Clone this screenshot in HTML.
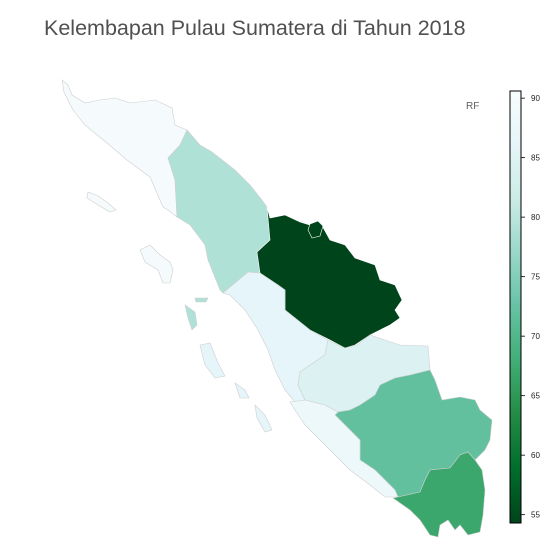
<!DOCTYPE html>
<html><head><meta charset="utf-8"><style>
body{margin:0;background:#fff;width:551px;height:557px;overflow:hidden}
svg{display:block;font-family:"Liberation Sans",sans-serif}
</style></head><body>
<svg id="chart" width="551" height="557">
<text x="44" y="35" font-size="21.5" fill="#505050">Kelembapan Pulau Sumatera di Tahun 2018</text>
<text x="466" y="109" font-size="10" fill="#606060">RF</text>
<defs><linearGradient id="bugn" x1="0" y1="1" x2="0" y2="0">
<stop offset="0" stop-color="#00441b"/><stop offset="0.125" stop-color="#006d2c"/><stop offset="0.25" stop-color="#238b45"/><stop offset="0.375" stop-color="#41ae76"/><stop offset="0.5" stop-color="#66c2a4"/><stop offset="0.625" stop-color="#99d8c9"/><stop offset="0.75" stop-color="#ccece6"/><stop offset="0.875" stop-color="#e5f5f9"/><stop offset="1" stop-color="#f7fcfd"/>
</linearGradient></defs>
<g id="map"></g>
<rect x="510" y="91" width="11" height="432" fill="url(#bugn)" stroke="#000" stroke-width="1"/>
<g id="cbticks"></g>
</svg>
<script>
const provinces = ["Aceh","Sumatera Utara","Riau","Sumatera Barat","Jambi","Sumatera Selatan","Bengkulu","Lampung"];
const humidity = [90.0, 79.0, 54.3, 86.0, 84.5, 72.0, 88.0, 67.0];
const tickValues = [55,60,65,70,75,80,85,90];
const vmin = 54.3, vmax = 90.6;
const cbTop = 91, cbBottom = 523;
function yScale(v){return cbBottom - (v - vmin)/(vmax - vmin)*(cbBottom - cbTop);}
const stops = ["#00441b","#006d2c","#238b45","#41ae76","#66c2a4","#99d8c9","#ccece6","#e5f5f9","#f7fcfd"];
function hex(c){return [1,3,5].map(i=>parseInt(c.substr(i,2),16));}
function color(v){
  let t = Math.max(0,Math.min(1,(v-vmin)/(vmax-vmin)))*(stops.length-1);
  let i = Math.min(stops.length-2,Math.floor(t)), f = t-i;
  let a = hex(stops[i]), b = hex(stops[i+1]);
  return "rgb("+a.map((x,k)=>Math.round(x+(b[k]-x)*f)).join(",")+")";
}
const shapes = {
 "Aceh":[[[62,80],[68,85],[72,95],[85,103],[100,100],[115,98],[130,103],[155,100],[172,108],[175,125],[187,130],[180,145],[168,158],[175,180],[177,217],[168,210],[163,207],[150,177],[127,160],[107,143],[85,125],[73,110],[64,92]],
  [[140,250],[150,245],[160,255],[170,262],[173,270],[170,283],[163,283],[158,270],[145,262]],
  [[88,192],[98,196],[108,203],[116,210],[110,212],[98,205],[87,198]]],
 "Sumatera Utara":[[[187,130],[200,145],[212,152],[235,170],[250,185],[262,200],[267,207],[270,240],[257,252],[260,273],[248,272],[223,293],[220,290],[208,260],[205,245],[190,225],[177,217],[175,180],[168,158],[180,145]],
  [[185,305],[195,312],[197,325],[192,330],[188,318]],[[195,298],[208,298],[206,302],[196,302]]],
 "Riau":[[[267,207],[270,218],[285,215],[300,222],[310,225],[320,222],[330,240],[345,245],[355,258],[375,265],[380,280],[395,285],[402,300],[395,310],[400,318],[390,325],[380,330],[370,335],[355,345],[345,348],[330,340],[310,330],[295,318],[285,310],[285,290],[278,285],[260,273],[257,252],[270,240]],
  [[310,224],[318,221],[323,226],[320,236],[312,238],[308,230]]],
 "Sumatera Barat":[[[248,272],[260,273],[278,285],[285,290],[285,310],[295,318],[310,330],[328,340],[325,355],[300,372],[298,385],[305,400],[295,402],[285,390],[275,370],[268,350],[258,330],[245,310],[230,295],[223,293]],
  [[200,345],[210,343],[218,363],[225,376],[215,378],[205,365]],[[235,383],[245,390],[249,398],[240,398]],[[255,405],[265,415],[272,430],[265,432],[257,418]]],
 "Jambi":[[[328,340],[345,348],[357,345],[370,335],[385,340],[400,345],[428,346],[430,370],[410,375],[395,378],[380,385],[375,395],[360,405],[350,410],[338,412],[325,405],[305,400],[298,385],[300,372],[325,355]]],
 "Bengkulu":[[[305,400],[325,405],[338,412],[335,415],[345,425],[360,440],[360,460],[375,470],[385,480],[395,490],[398,497],[385,497],[370,485],[350,470],[335,455],[320,440],[305,425],[295,410],[290,402]]],
 "Sumatera Selatan":[[[338,412],[350,410],[360,405],[375,395],[380,385],[395,378],[410,375],[430,370],[435,380],[442,400],[460,397],[475,400],[480,410],[492,420],[490,440],[485,450],[475,460],[468,452],[460,455],[450,468],[430,470],[425,480],[420,492],[398,497],[395,490],[385,480],[375,470],[360,460],[360,440],[345,425],[335,415]]],
 "Lampung":[[[398,497],[420,492],[425,480],[430,470],[450,468],[460,455],[468,452],[475,460],[482,470],[485,490],[483,515],[480,532],[468,535],[460,525],[455,530],[448,520],[440,525],[438,537],[430,535],[420,520],[410,510],[400,503],[393,498]]]
};
const NS="http://www.w3.org/2000/svg";
const map=document.getElementById("map");
provinces.forEach((p,i)=>{
  shapes[p].forEach((poly,j)=>{
    const el=document.createElementNS(NS,"polygon");
    el.setAttribute("points",poly.map(q=>q.join(",")).join(" "));
    el.setAttribute("fill",color(humidity[i]));
    el.setAttribute("stroke",i===2?"#ffffff":"#cfcfcf");
    el.setAttribute("stroke-width","0.6");
    
    
    map.appendChild(el);
  });
});
const tg=document.getElementById("cbticks");
tickValues.forEach(v=>{
  const y=yScale(v);
  const l=document.createElementNS(NS,"line");
  l.setAttribute("x1",521);l.setAttribute("x2",525);l.setAttribute("y1",y);l.setAttribute("y2",y);
  l.setAttribute("stroke","#000");l.setAttribute("stroke-width","0.8");
  
  
  tg.appendChild(l);
  const t=document.createElementNS(NS,"text");
  t.setAttribute("x",531);t.setAttribute("y",y+3);t.setAttribute("font-size","8");t.setAttribute("fill","#222");
  t.textContent=v;
  
  
  tg.appendChild(t);
});
</script>
</body></html>
